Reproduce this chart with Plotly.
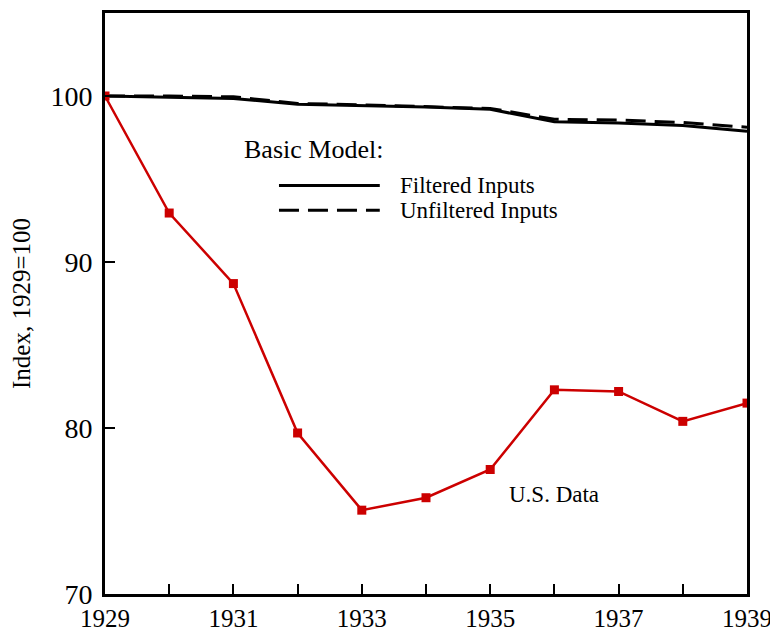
import plotly.graph_objects as go

# years on the x axis
years = list(range(1929, 1940))

# U.S. data, index 1929=100
us_data = [100.0, 92.95, 88.7, 79.7, 75.05, 75.8, 77.5, 82.3, 82.2, 80.4, 81.5]

# basic model, filtered and unfiltered inputs
filtered = [100.0, 99.93, 99.85, 99.5, 99.42, 99.33, 99.2, 98.45, 98.38, 98.22, 97.88]
unfiltered = [100.0, 100.0, 99.95, 99.55, 99.47, 99.38, 99.25, 98.6, 98.55, 98.4, 98.12]

# tick labels
x_ticktext = [str(y) if y % 2 == 1 else "" for y in years]
y_tickvals = [70, 80, 90, 100]

FONT = "Liberation Serif"
RED = "#cc0000"

fig = go.Figure()

fig.add_trace(go.Scatter(x=years, y=filtered, mode="lines",
                         line=dict(color="black", width=3)))
fig.add_trace(go.Scatter(x=years, y=unfiltered, mode="lines",
                         line=dict(color="black", width=3, dash="20px,9px")))
fig.add_trace(go.Scatter(x=years, y=us_data, mode="lines+markers",
                         line=dict(color=RED, width=2.5),
                         marker=dict(symbol="square", size=9, color=RED)))

# legend keys drawn by hand
fig.add_shape(type="line", x0=1931.71, x1=1933.28, y0=94.61, y1=94.61,
              line=dict(color="black", width=3))
fig.add_shape(type="line", x0=1931.71, x1=1933.28, y0=93.11, y1=93.11,
              line=dict(color="black", width=3, dash="20px,9px"))

fig.add_annotation(x=1931.13, y=96.77, text="Basic Model:", showarrow=False,
                   xanchor="left", yanchor="middle", font=dict(size=26))
fig.add_annotation(x=1933.56, y=94.61, text="Filtered Inputs", showarrow=False,
                   xanchor="left", yanchor="middle", font=dict(size=23))
fig.add_annotation(x=1933.56, y=93.11, text="Unfiltered Inputs", showarrow=False,
                   xanchor="left", yanchor="middle", font=dict(size=23))
fig.add_annotation(x=1936.0, y=75.99, text="U.S. Data", showarrow=False,
                   xanchor="center", yanchor="middle", font=dict(size=23))

# page body adds an 8px offset, so margins are shifted to compensate
fig.update_layout(
    width=778, height=636,
    margin=dict(l=97, r=39, t=2, b=50),
    plot_bgcolor="white", paper_bgcolor="white",
    showlegend=False,
    font=dict(family=FONT, color="black"),
)

fig.update_xaxes(range=[1929, 1939], tickvals=years, ticktext=x_ticktext,
                 ticks="inside", ticklen=10, tickwidth=2, tickcolor="black",
                 showline=True, linewidth=3, linecolor="black", mirror=True,
                 showgrid=False, zeroline=False, tickfont=dict(size=25))
fig.update_yaxes(range=[70, 105], tickvals=y_tickvals,
                 ticks="inside", ticklen=10, tickwidth=2, tickcolor="black",
                 showline=True, linewidth=3, linecolor="black", mirror=True,
                 showgrid=False, zeroline=False, tickfont=dict(size=28),
                 ticklabelstandoff=4,
                 title=dict(text="Index, 1929=100", font=dict(size=25), standoff=20))

fig.write_html("out.html")
